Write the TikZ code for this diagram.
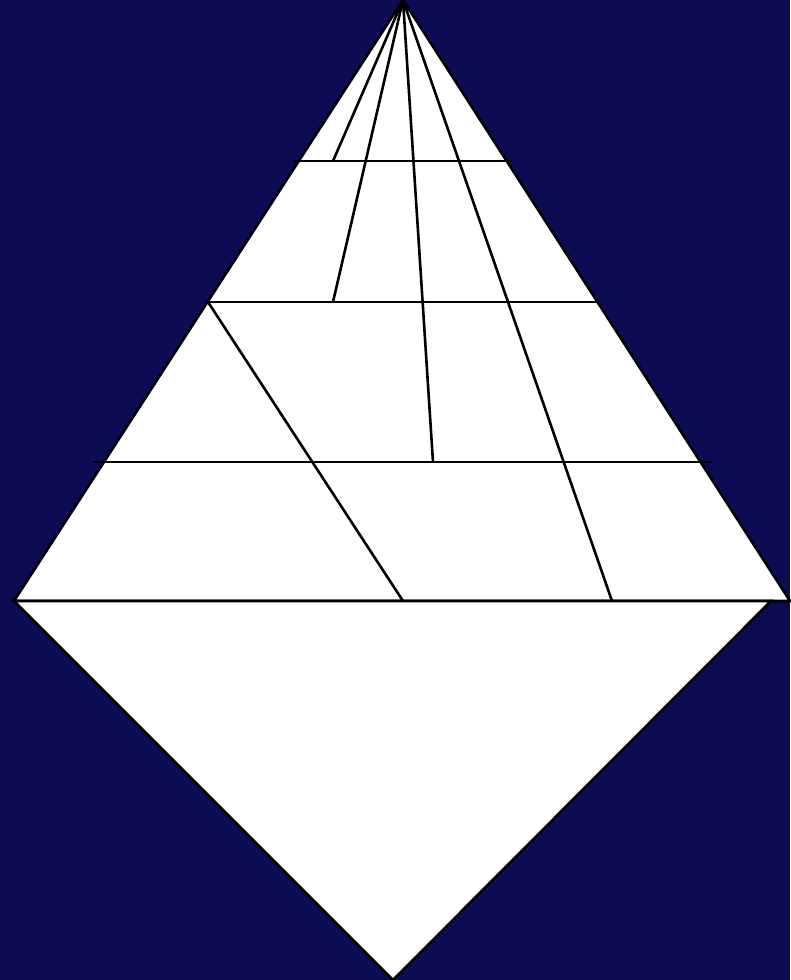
\documentclass[tikz,border=0pt]{standalone}
\definecolor{navy}{RGB}{12,12,84}

\begin{document}
\begin{tikzpicture}[x=1pt,y=-1pt,line width=2.6pt,line join=miter]
\fill[navy] (0,0) rectangle (790,980);
\useasboundingbox (0,0) rectangle (790,980);
\coordinate (apex) at (403,0);
\coordinate (left) at (14,601);
\coordinate (right) at (790,601);
\coordinate (lowright) at (771,601);
\coordinate (bottom) at (393,980);
\coordinate (cut) at (208,302);
\filldraw[fill=white] (apex)--(left)--(right)--cycle;
\filldraw[fill=white] (left)--(bottom)--(lowright)--cycle;
\draw (293,161)--(512,161);
\draw (cut)--(597,302);
\draw (93,462)--(712,462);
\draw (left)--(right);
\foreach \x/\y in {333/161,333/302,433/462,612/601} {\draw (apex)--(\x,\y);}
\draw (cut)--(403,601);
\end{tikzpicture}
\end{document}
